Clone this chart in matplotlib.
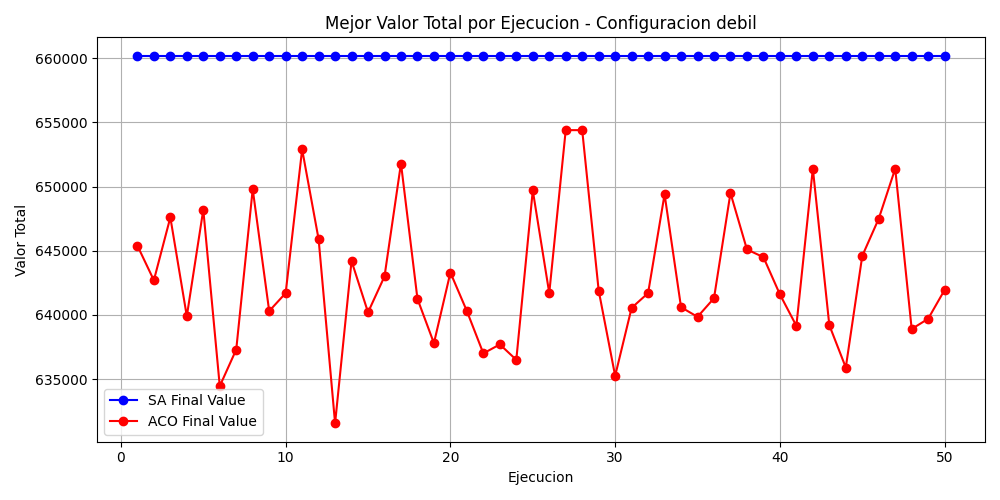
import matplotlib
matplotlib.use("Agg")
import matplotlib.pyplot as plt

runs = list(range(1, 51))
sa_values = [660200] * 50
aco_values = [645400, 642700, 647600, 639900, 648200, 634450, 637300, 649800, 640300, 641700,
              652900, 645900, 631550, 644200, 640200, 643000, 651800, 641250, 637800, 643300,
              640300, 637000, 637700, 636500, 649700, 641700, 654400, 654400, 641900, 635250,
              640550, 641700, 649400, 640600, 639850, 641300, 649500, 645100, 644500, 641600,
              639150, 651400, 639200, 635900, 644600, 647500, 651400, 638900, 639700, 641950]

fig, ax = plt.subplots(figsize=(10, 5))
ax.plot(runs, sa_values, marker='o', color='blue', label='SA Final Value')
ax.plot(runs, aco_values, marker='o', color='red', label='ACO Final Value')
ax.set_title("Mejor Valor Total por Ejecucion - Configuracion debil")
ax.set_xlabel("Ejecucion")
ax.set_ylabel("Valor Total")
ax.grid(True)
ax.legend(loc='lower left')
fig.tight_layout()
fig.savefig("out.png", dpi=100)
